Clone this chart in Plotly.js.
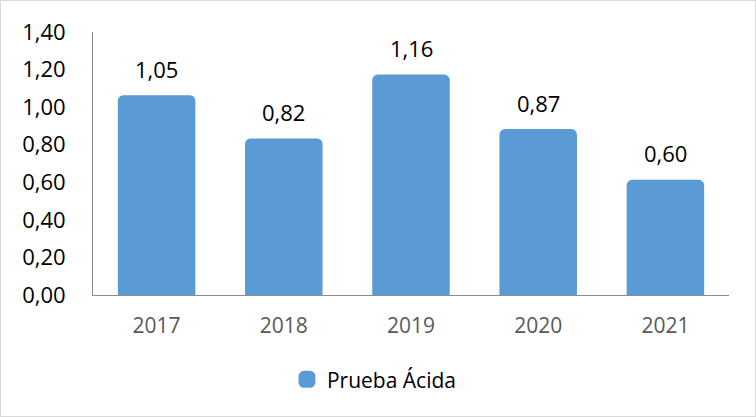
<!DOCTYPE html>
<html><head><meta charset="utf-8">
<script src="https://cdn.plot.ly/plotly-3.0.1.min.js"></script>
<style>html,body{margin:0;padding:0;background:#fff}#c{width:756px;height:417px;box-sizing:border-box;border:1px solid #d9d9d9}</style>
</head><body><div id="c"></div>
<script>
const years = ["2017","2018","2019","2020","2021"];
const values = [1.05, 0.82, 1.16, 0.87, 0.60];
const seriesName = "Prueba Ácida";
const yTicks = [0,0.2,0.4,0.6,0.8,1.0,1.2,1.4];

const FONT = 'Open Sans, Noto Sans, sans-serif';
const fmt = v => v.toFixed(2).replace('.', ',');
const annotations = years.map((y,i)=>({
  x: i, y: values[i], xref:'x', yref:'y', text: fmt(values[i]), showarrow:false,
  yanchor:'bottom', yshift:12, font:{family:FONT, size:22, color:'#000'}
}));

Plotly.newPlot('c', [{
  type:'bar', x: years, y: values, name: seriesName,
  marker:{color:'#5B9BD5', cornerradius:3, line:{width:5, color:'#5B9BD5'}},
  hoverinfo:'none', showlegend:true
}], {
  width:754, height:415,
  margin:{l:92, r:26, t:31, b:121},
  paper_bgcolor:'#fff', plot_bgcolor:'#fff',
  separators:',.',
  bargap:0.43,
  font:{family:FONT},
  xaxis:{type:'category', range:[-0.5,4.5], showline:true, linecolor:'#8c8c8c', linewidth:1, showgrid:false, ticks:'',
    tickfont:{size:21, color:'#595959'}, ticklabelstandoff:12, zeroline:false, fixedrange:true},
  yaxis:{range:[0,1.4], tickvals:yTicks, ticktext:yTicks.map(fmt), showline:true, linecolor:'#8c8c8c', linewidth:1,
    showgrid:false, zeroline:false, ticks:'', tickfont:{size:22, color:'#000'}, ticklabelstandoff:22, fixedrange:true},
  showlegend:true,
  legend:{orientation:'h', x:0.305, xanchor:'left', xref:'paper', y:-0.322, yanchor:'middle',
    font:{size:21, color:'#000'}, itemwidth:30},
  annotations: annotations
}, {displayModeBar:false, staticPlot:true});
</script></body></html>
